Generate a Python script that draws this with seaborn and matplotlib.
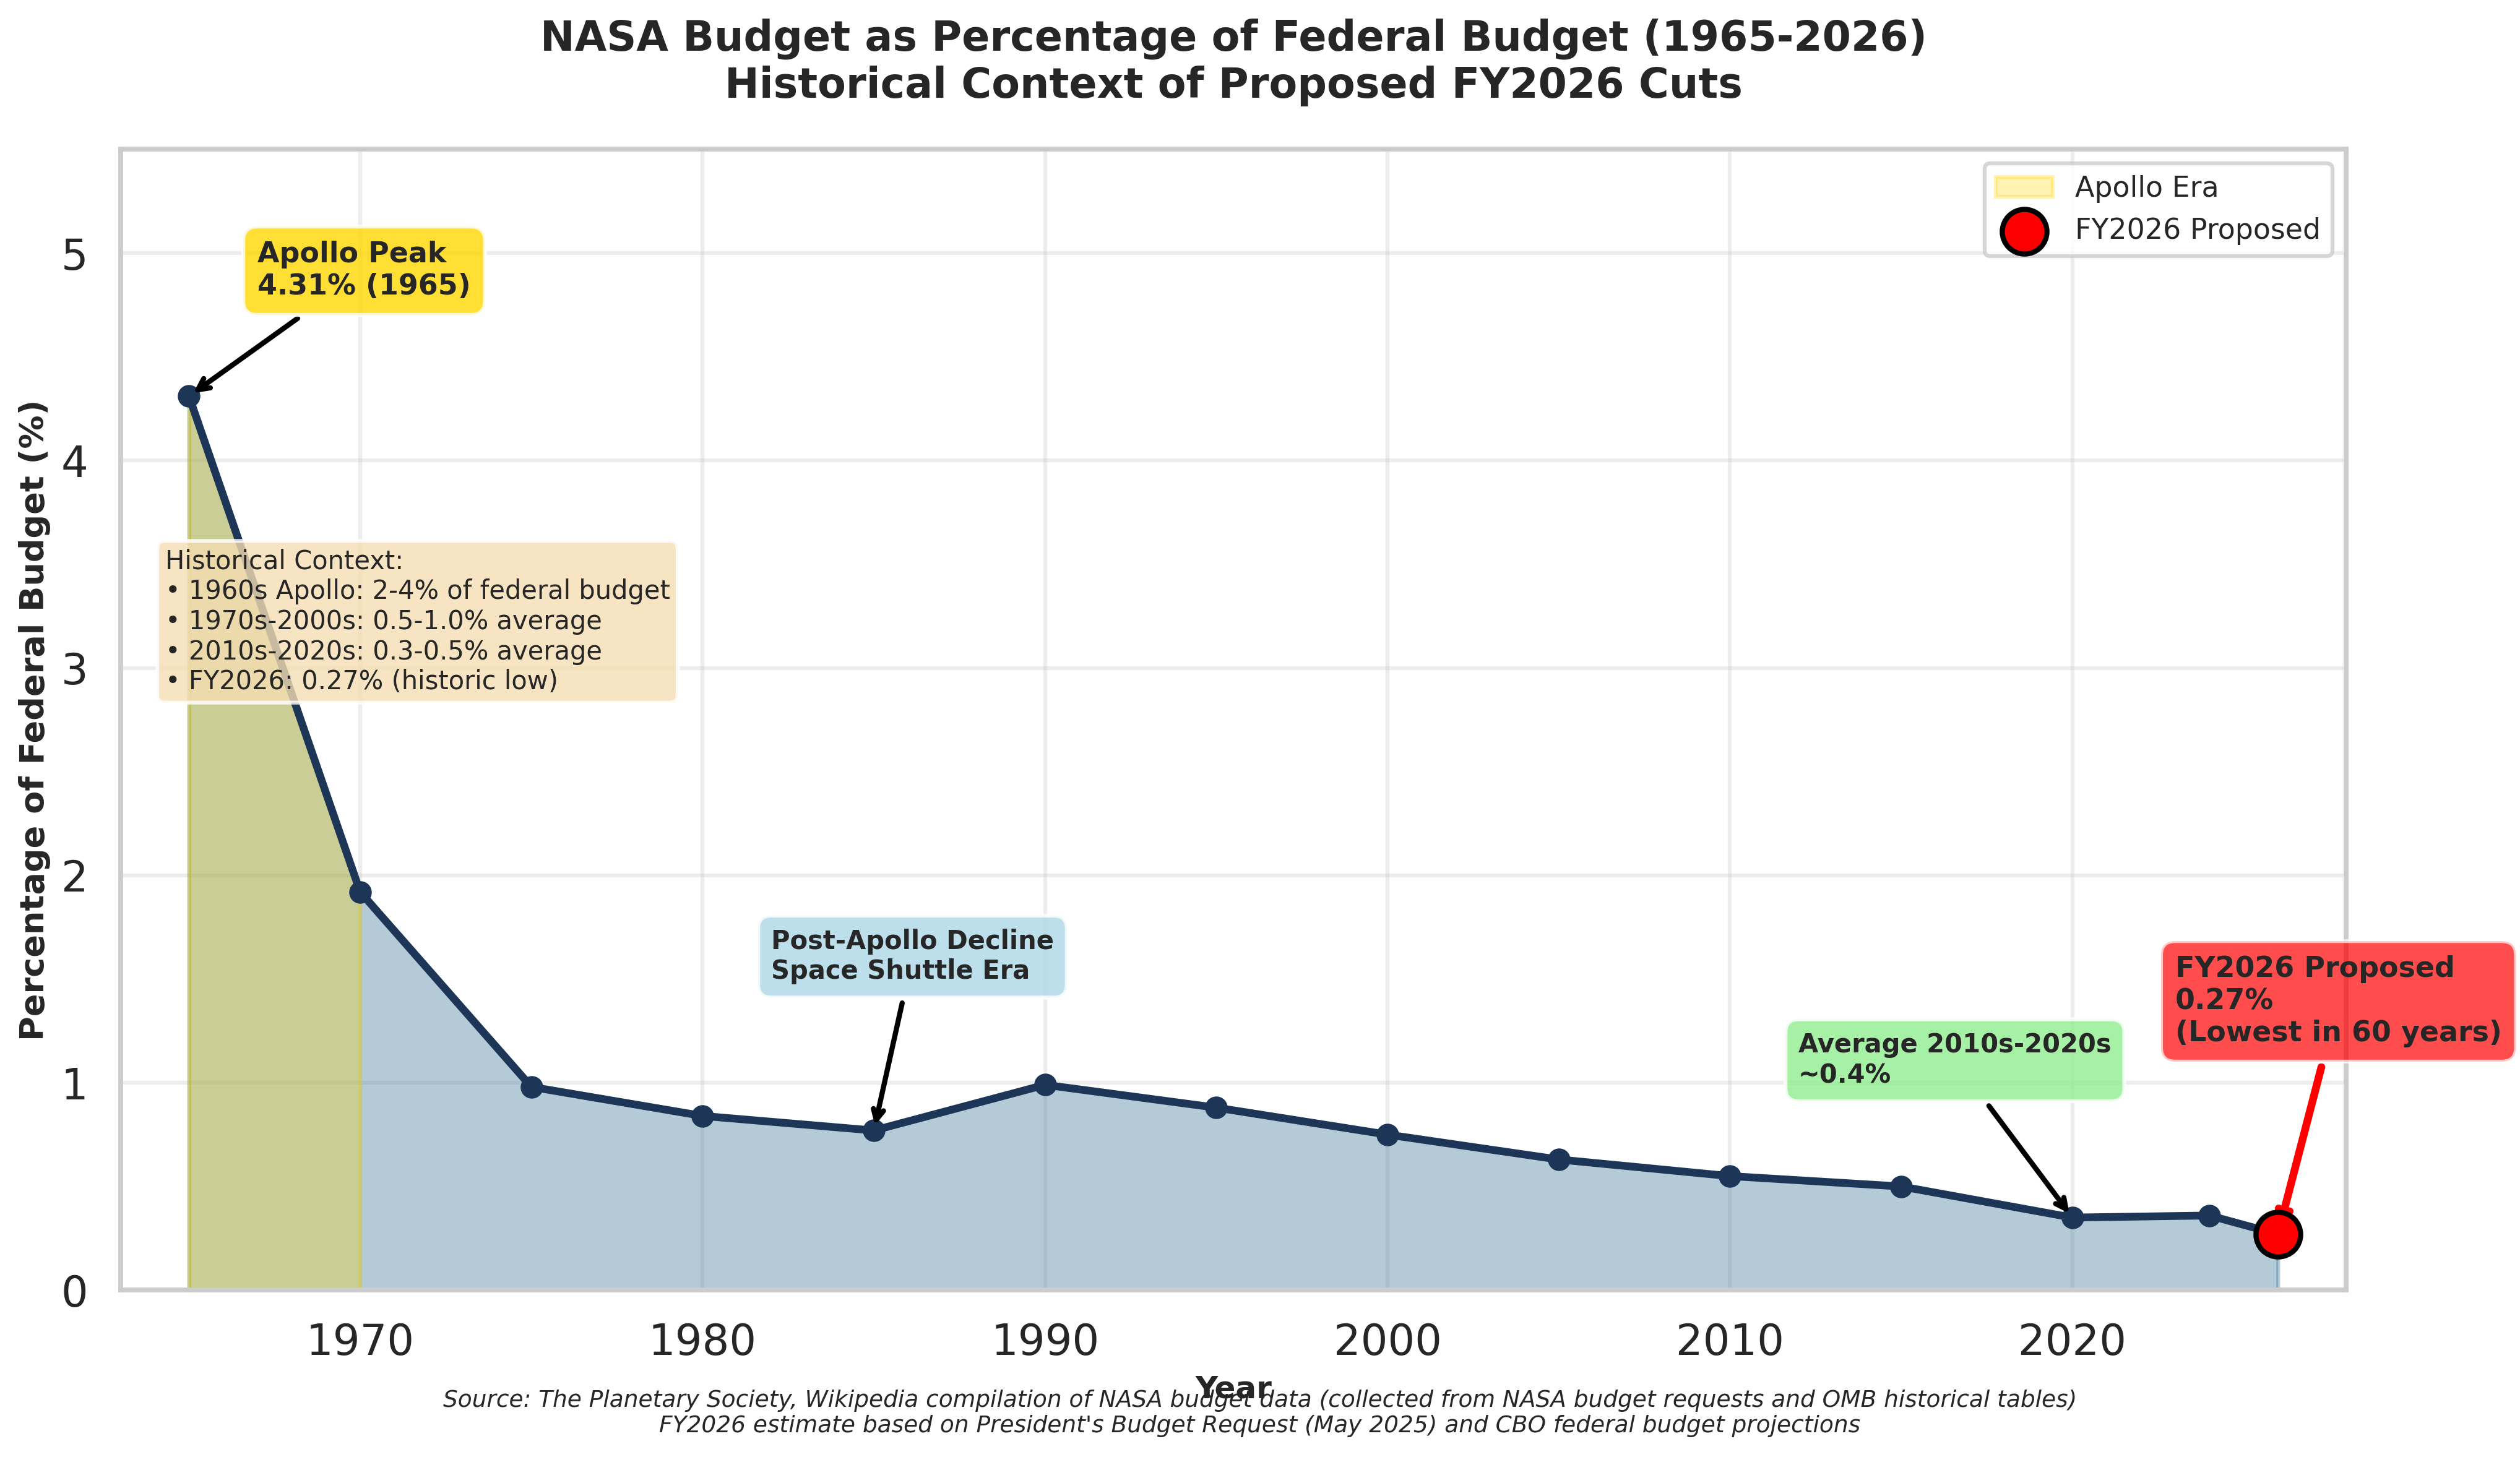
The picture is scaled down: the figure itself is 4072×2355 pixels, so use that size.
import numpy as np
import matplotlib
matplotlib.use("Agg")
import matplotlib.pyplot as plt
import seaborn as sns

# NASA share of federal budget
years = [1965, 1970, 1975, 1980, 1985, 1990, 1995, 2000, 2005, 2010, 2015, 2020, 2024, 2026]
pct = [4.31, 1.92, 0.98, 0.84, 0.77, 0.99, 0.88, 0.75, 0.63, 0.55, 0.50, 0.35, 0.36, 0.27]

apollo_years = [1965, 1970]
apollo_pct = [4.31, 1.92]

fy2026_year = 2026
fy2026_pct = 0.27

context_text = ('Historical Context:\n'
                '• 1960s Apollo: 2-4% of federal budget\n'
                '• 1970s-2000s: 0.5-1.0% average\n'
                '• 2010s-2020s: 0.3-0.5% average\n'
                '• FY2026: 0.27% (historic low)')
source_text = ('Source: The Planetary Society, Wikipedia compilation of NASA budget data '
               '(collected from NASA budget requests and OMB historical tables)\n'
               "FY2026 estimate based on President's Budget Request (May 2025) and CBO federal budget projections")

sns.set_theme(style="whitegrid", context="talk")

fig, ax = plt.subplots(figsize=(4072 / 300, 2355 / 300), dpi=300)
fig.subplots_adjust(left=0.0478, right=0.9311, bottom=0.1145, top=0.8975)

# area under the curve
ax.fill_between(years, pct, color='#457b9d', alpha=0.4)
ax.fill_between(apollo_years, apollo_pct, color='gold', alpha=0.3, label='Apollo Era')

sns.lineplot(x=years, y=pct, marker='o', color='#1d3557', linewidth=3,
             markersize=8, markeredgecolor='#1d3557', ax=ax)

ax.scatter([fy2026_year], [fy2026_pct], s=300, color='red', edgecolor='black',
           linewidth=2, zorder=5, label='FY2026 Proposed')

# annotations
ax.annotate('Apollo Peak\n4.31% (1965)', xy=(1965, 4.31), xytext=(1967, 4.8),
            fontsize=11, fontweight='bold',
            bbox=dict(boxstyle='round,pad=0.5', facecolor='gold', alpha=0.8),
            arrowprops=dict(arrowstyle='->', color='black', lw=2))
ax.annotate('Post-Apollo Decline\nSpace Shuttle Era', xy=(1985, 0.77), xytext=(1982, 1.5),
            fontsize=10, fontweight='bold',
            bbox=dict(boxstyle='round,pad=0.5', facecolor='lightblue', alpha=0.8),
            arrowprops=dict(arrowstyle='->', color='black', lw=2))
ax.annotate('Average 2010s-2020s\n~0.4%', xy=(2020, 0.35), xytext=(2012, 1.0),
            fontsize=10, fontweight='bold',
            bbox=dict(boxstyle='round,pad=0.5', facecolor='lightgreen', alpha=0.8),
            arrowprops=dict(arrowstyle='->', color='black', lw=2))
ax.annotate('FY2026 Proposed\n0.27%\n(Lowest in 60 years)', xy=(fy2026_year, fy2026_pct),
            xytext=(2023, 1.2), fontsize=11, fontweight='bold',
            bbox=dict(boxstyle='round,pad=0.5', facecolor='red', alpha=0.7),
            arrowprops=dict(arrowstyle='->', color='red', lw=3))

ax.text(0.02, 0.65, context_text, transform=ax.transAxes, fontsize=10, va='top',
        bbox=dict(boxstyle='round', facecolor='wheat', alpha=0.8))

ax.set_xlim(1963, 2028)
ax.set_ylim(0, 5.5)
ax.grid(True, alpha=0.35)
ax.set_xlabel('Year', fontsize=12, fontweight='bold')
ax.set_ylabel('Percentage of Federal Budget (%)', fontsize=13, fontweight='bold')
ax.set_title('NASA Budget as Percentage of Federal Budget (1965-2026)\n'
             'Historical Context of Proposed FY2026 Cuts',
             fontsize=16, fontweight='bold', pad=20)
ax.legend(loc='upper right', fontsize=11)

fig.text(0.5, 0.03, source_text, ha='center', va='center', fontsize=9, style='italic')

fig.savefig('out.png', dpi=300)
